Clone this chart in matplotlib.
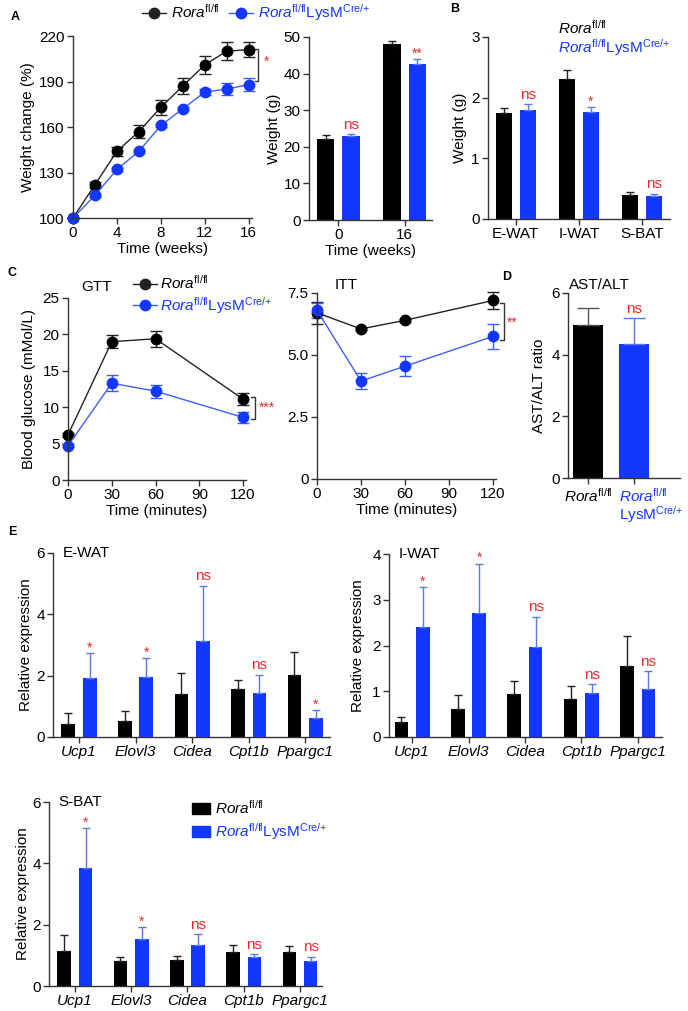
import matplotlib.pyplot as plt
import numpy as np
from matplotlib.lines import Line2D
from matplotlib.patches import Patch
from matplotlib.transforms import ScaledTranslation

plt.rcParams['font.family'] = ['Liberation Sans', 'DejaVu Sans']
plt.rcParams['mathtext.fontset'] = 'custom'
plt.rcParams['mathtext.rm'] = 'Liberation Sans'
plt.rcParams['mathtext.it'] = 'Liberation Sans:italic'
plt.rcParams['font.size'] = 11

W, H = 688, 1011
BLUE = '#1437ff'
LBLUE = '#3d5ff0'
EBLUE = '#5a78e6'
RED = '#ee2a2e'
SPINE = '#333333'

CRE = r'$^{\mathrm{Cre/}{+}}$'
CTRL = r'$\mathit{Rora}^{\mathrm{fl/fl}}$'
KO = CTRL + 'LysM' + CRE

# ---- data ----------------------------------------------------------------
weeks = [0, 2, 4, 6, 8, 10, 12, 14, 16]
wc_ctrl = [100, 122, 144, 157, 173, 187, 201, 210, 211]
wc_ctrl_err = [0, 2, 3, 4, 5, 5, 6, 6, 5]
wc_ko = [100, 115, 132, 144, 161, 172, 183, 185, 188]
wc_ko_err = [0, 1, 1, 1, 1, 1, 2, 4, 4]

bw_times = ['0', '16']
bw_ctrl = [22.2, 48.0]
bw_ctrl_err = [1.0, 0.8]
bw_ko = [22.9, 42.6]
bw_ko_err = [0.5, 1.3]
bw_sig = ['ns', '**']

fat_pads = ['E-WAT', 'I-WAT', 'S-BAT']
fat_ctrl = [1.75, 2.31, 0.40]
fat_ctrl_err = [0.08, 0.15, 0.05]
fat_ko = [1.79, 1.77, 0.38]
fat_ko_err = [0.10, 0.08, 0.04]
fat_sig = ['ns', '*', 'ns']

minutes = [0, 30, 60, 120]
gtt_ctrl = [6.2, 19.0, 19.4, 11.1]
gtt_ctrl_err = [0.3, 0.9, 1.1, 0.8]
gtt_ko = [4.7, 13.3, 12.2, 8.6]
gtt_ko_err = [0.2, 1.1, 0.9, 0.8]

itt_ctrl = [6.7, 6.05, 6.4, 7.2]
itt_ctrl_err = [0.45, 0.05, 0.05, 0.33]
itt_ko = [6.8, 3.95, 4.55, 5.75]
itt_ko_err = [0.3, 0.33, 0.4, 0.5]

ast_ctrl, ast_ctrl_err = 4.95, 0.55
ast_ko, ast_ko_err = 4.33, 0.85

genes = ['Ucp1', 'Elovl3', 'Cidea', 'Cpt1b', 'Ppargc1']
ew_ctrl = [0.44, 0.52, 1.40, 1.57, 2.02]
ew_ctrl_err = [0.33, 0.32, 0.68, 0.28, 0.76]
ew_ko = [1.91, 1.96, 3.14, 1.44, 0.62]
ew_ko_err = [0.82, 0.60, 1.80, 0.58, 0.25]
ew_sig = ['*', '*', 'ns', 'ns', '*']

iw_ctrl = [0.33, 0.62, 0.93, 0.84, 1.56]
iw_ctrl_err = [0.11, 0.29, 0.29, 0.28, 0.65]
iw_ko = [2.41, 2.71, 1.96, 0.97, 1.06]
iw_ko_err = [0.86, 1.08, 0.67, 0.18, 0.38]
iw_sig = ['*', '*', 'ns', 'ns', 'ns']

sb_ctrl = [1.14, 0.80, 0.84, 1.11, 1.11]
sb_ctrl_err = [0.52, 0.16, 0.14, 0.22, 0.21]
sb_ko = [3.85, 1.53, 1.34, 0.93, 0.80]
sb_ko_err = [1.30, 0.38, 0.35, 0.10, 0.16]
sb_sig = ['*', '*', 'ns', 'ns', 'ns']

# ---- helpers -------------------------------------------------------------
fig = plt.figure(figsize=(W / 100, H / 100), dpi=100)


def add_ax(l, t, r, b):
    ax = fig.add_axes([l / W, 1 - b / H, (r - l) / W, (b - t) / H])
    for s in ['top', 'right']:
        ax.spines[s].set_visible(False)
    for s in ['left', 'bottom']:
        ax.spines[s].set_color(SPINE)
        ax.spines[s].set_linewidth(1.0)
    ax.tick_params(direction='out', length=4, width=1, color=SPINE, labelsize=11, pad=2)
    ax._box = (l, t, r, b)
    return ax


def ylab(ax, text, xpx):
    # xpx is the centre of the label; the label anchor is its right edge
    l, t, r, b = ax._box
    ax.set_ylabel(text, fontsize=11)
    ax.yaxis.set_label_coords((xpx + 8 - l) / (r - l), 0.5)


def ftext(x, y, s, **kw):
    fig.text(x / W, 1 - y / H, s, **kw)


def sig(ax, x, top, s):
    off = 1 if '*' in s else 4
    ax.annotate(s, (x, top), xytext=(0, off), textcoords='offset points',
                ha='center', va='baseline', color=RED,
                fontsize=11 if s == 'ns' else 10, annotation_clip=False)


def bars(ax, ctrl, ctrl_err, ko, ko_err, sigs, off=0.19, w=0.25, ecap=3):
    x = np.arange(len(ctrl))
    ax.bar(x - off, ctrl, w, color='black',
           yerr=[np.zeros(len(ctrl)), ctrl_err],
           error_kw=dict(ecolor='#222222', elinewidth=1, capsize=ecap, capthick=1))
    ax.bar(x + off, ko, w, color=BLUE,
           yerr=[np.zeros(len(ko)), ko_err],
           error_kw=dict(ecolor=EBLUE, elinewidth=1, capsize=ecap, capthick=1))
    for i, s in enumerate(sigs):
        sig(ax, x[i] + off, ko[i] + ko_err[i], s)
    return x


def lines(ax, x, c, ce, k, ke):
    for y, e, mc, lc in [(c, ce, 'black', '#222222'), (k, ke, BLUE, LBLUE)]:
        cont = ax.errorbar(x, y, yerr=e, fmt='-o', color=lc, mfc=mc, mec=mc, ms=7.5,
                           lw=1, elinewidth=1, capsize=4, capthick=1)
        for art in cont.get_children():
            art.set_clip_on(False)


def bracket(ax, x0, x1, y0, y1, s, tx, ty):
    ax.plot([x0, x1, x1, x0], [y0, y0, y1, y1], color='#333333', lw=1, clip_on=False)
    ax.text(tx, ty, s, color=RED, fontsize=10, ha='left', va='center')


# ---- A: weight change ----------------------------------------------------
ax = add_ax(73, 36, 252, 218)
lines(ax, weeks, wc_ctrl, wc_ctrl_err, wc_ko, wc_ko_err)
ax.set_xlim(0, 16.3)
ax.set_ylim(100, 220)
ax.set_xticks([0, 4, 8, 12, 16])
ax.set_yticks([100, 130, 160, 190, 220])
ax.set_xlabel('Time (weeks)', fontsize=11, labelpad=1)
ylab(ax, 'Weight change (%)', 27)
bracket(ax, 16.55, 16.85, 211.4, 190.3, '*', 17.4, 203)

ax = add_ax(309, 37, 432, 220)
x = bars(ax, bw_ctrl, bw_ctrl_err, bw_ko, bw_ko_err, bw_sig, w=0.26)
ax.set_xlim(-0.44, 1.41)
ax.set_ylim(0, 50)
ax.set_xticks(x)
ax.set_xticklabels(bw_times)
ax.set_yticks([0, 10, 20, 30, 40, 50])
ax.set_xlabel('Time (weeks)', fontsize=11, labelpad=1)
ylab(ax, 'Weight (g)', 273)

fig.legend([Line2D([0], [0], color='#222222', marker='o', ms=7.5, lw=1),
            Line2D([0], [0], color=LBLUE, marker='o', mfc=BLUE, mec=BLUE, ms=7.5, lw=1)],
           [CTRL, KO], ncol=2, loc='center', bbox_to_anchor=(256 / W, 1 - 13 / H),
           frameon=False, fontsize=11, handlelength=1.6, handletextpad=0.3,
           columnspacing=0.6, borderpad=0, borderaxespad=0)
for t in fig.legends[-1].get_texts()[1:]:
    t.set_color(BLUE)

# ---- B: fat pad weight ---------------------------------------------------
ax = add_ax(488, 37, 670, 219)
x = bars(ax, fat_ctrl, fat_ctrl_err, fat_ko, fat_ko_err, fat_sig)
ax.set_xlim(-0.44, 2.44)
ax.set_ylim(0, 3)
ax.set_xticks(x)
ax.set_xticklabels(fat_pads)
ax.set_yticks([0, 1, 2, 3])
ylab(ax, 'Weight (g)', 459)
ftext(558, 28, CTRL, color='black', fontsize=11, va='center')
ftext(558, 48, KO, color=BLUE, fontsize=11, va='center')

# ---- C: GTT / ITT --------------------------------------------------------
ax = add_ax(68, 298, 246, 480)
lines(ax, minutes, gtt_ctrl, gtt_ctrl_err, gtt_ko, gtt_ko_err)
ax.set_xlim(0, 122)
ax.set_ylim(0, 25)
ax.set_xticks([0, 30, 60, 90, 120])
ax.set_yticks([0, 5, 10, 15, 20, 25])
ax.set_xlabel('Time (minutes)', fontsize=11, labelpad=1)
ylab(ax, 'Blood glucose (mMol/L)', 28)
ax.text(97 / W, 1 - 287 / H, 'GTT', transform=fig.transFigure, ha='center', va='center', fontsize=11)
bracket(ax, 125.5, 128.5, 11.44, 8.33, '***', 130.5, 9.9)
ax.legend([Line2D([0], [0], color='#222222', marker='o', ms=7.5, lw=1),
           Line2D([0], [0], color=LBLUE, marker='o', mfc=BLUE, mec=BLUE, ms=7.5, lw=1)],
          [CTRL, KO], loc='upper left', bbox_to_anchor=(133 / W, 1 - 274 / H),
          bbox_transform=fig.transFigure, frameon=False, fontsize=11,
          handlelength=1.6, handletextpad=0.2, labelspacing=0.2, borderpad=0, borderaxespad=0)
ax.get_legend().get_texts()[1].set_color(BLUE)

ax = add_ax(317, 293, 496, 479)
lines(ax, minutes, itt_ctrl, itt_ctrl_err, itt_ko, itt_ko_err)
ax.set_xlim(0, 122)
ax.set_ylim(0, 7.5)
ax.set_xticks([0, 30, 60, 90, 120])
ax.set_yticks([0, 2.5, 5.0, 7.5])
ax.set_yticklabels(['0', '2.5', '5.0', '7.5'])
ax.set_xlabel('Time (minutes)', fontsize=11, labelpad=1)
ax.text(346 / W, 1 - 285 / H, 'ITT', transform=fig.transFigure, ha='center', va='center', fontsize=11)
bracket(ax, 124.5, 127.5, 7.08, 5.6, '**', 129.5, 6.3)

# ---- D: AST/ALT ----------------------------------------------------------
ax = add_ax(568, 293, 680, 478)
ax.bar([0], [ast_ctrl], 0.645, color='black', yerr=[[0], [ast_ctrl_err]],
       error_kw=dict(ecolor='#555555', elinewidth=1, capsize=8, capthick=1))
ax.bar([1], [ast_ko], 0.645, color=BLUE, yerr=[[0], [ast_ko_err]],
       error_kw=dict(ecolor=EBLUE, elinewidth=1, capsize=8, capthick=1))
sig(ax, 1, ast_ko + ast_ko_err, 'ns')
ax.set_xlim(-0.43, 1.98)
ax.set_ylim(0, 6)
ax.set_yticks([0, 2, 4, 6])
ax.set_xticks([0, 1])
ax.set_xticklabels([CTRL, CTRL + '\nLysM' + CRE], fontsize=11)
lab = ax.get_xticklabels()[1]
lab.set_color(BLUE)
lab.set_linespacing(1.0)
lab.set_ha('left')
lab.set_multialignment('left')
lab.set_transform(lab.get_transform() + ScaledTranslation(-0.15, 0, fig.dpi_scale_trans))
ylab(ax, 'AST/ALT ratio', 538)
ftext(599, 285, 'AST/ALT', ha='center', va='center', fontsize=11)

# ---- E: gene expression --------------------------------------------------
panels = [
    ((53, 553, 330, 737), ew_ctrl, ew_ctrl_err, ew_ko, ew_ko_err, ew_sig, 6, [0, 2, 4, 6], 'E-WAT', 25, (-0.46, 4.44)),
    ((389, 554, 662, 737), iw_ctrl, iw_ctrl_err, iw_ko, iw_ko_err, iw_sig, 4, [0, 1, 2, 3, 4], 'I-WAT', 357, (-0.41, 4.43)),
    ((49, 802, 322, 986), sb_ctrl, sb_ctrl_err, sb_ko, sb_ko_err, sb_sig, 6, [0, 2, 4, 6], 'S-BAT', 22, (-0.46, 4.39)),
]
for box, c, ce, k, ke, ss, ymax, yt, name, ylx, xl in panels:
    ax = add_ax(*box)
    x = bars(ax, c, ce, k, ke, ss, off=0.19, w=0.24)
    ax.set_xlim(*xl)
    ax.set_ylim(0, ymax)
    ax.set_yticks(yt)
    ax.set_xticks(x)
    ax.set_xticklabels(genes, style='italic')
    ylab(ax, 'Relative expression', ylx)
    ax.text(0.035, 1.0, name, transform=ax.transAxes, ha='left', va='center', fontsize=11)

ax.legend([Patch(color='black'), Patch(color=BLUE)], [CTRL, KO], loc='upper left',
          bbox_to_anchor=(192 / W, 1 - 799 / H), bbox_transform=fig.transFigure,
          frameon=False, fontsize=11, handlelength=1.2, handleheight=0.7,
          handletextpad=0.3, labelspacing=0.3, borderpad=0, borderaxespad=0)
ax.get_legend().get_texts()[1].set_color(BLUE)

# ---- panel letters -------------------------------------------------------
for lt, px, py in [('A', 15, 17), ('B', 455, 9), ('C', 12, 273), ('D', 507, 277), ('E', 12, 532)]:
    ftext(px, py, lt, fontsize=9, fontweight='bold', ha='center', va='center')

fig.savefig('out.png', dpi=100, facecolor='white')
